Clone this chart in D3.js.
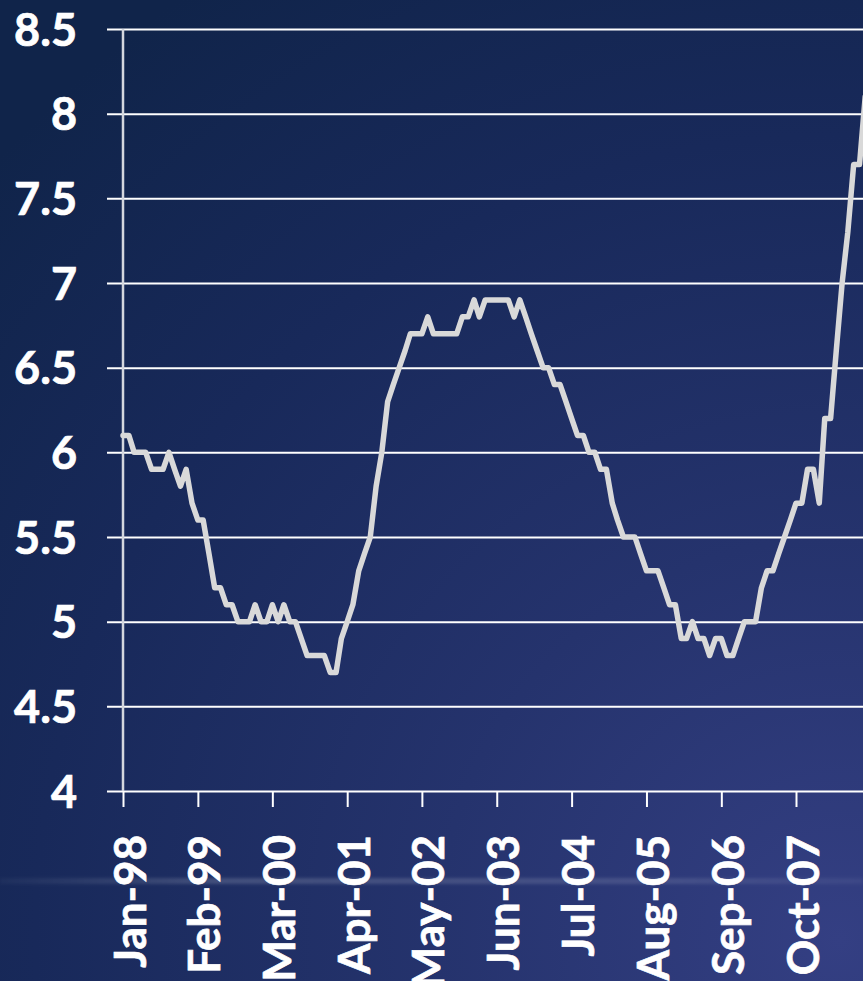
<!DOCTYPE html>
<html>
<head>
<meta charset="utf-8">
<script src="https://cdn.jsdelivr.net/npm/d3@7"></script>
<style>
  html, body { margin: 0; padding: 0; background: #14284f; }
  svg { display: block; }
  .lbl { font-family: Lato, "Open Sans", sans-serif; font-weight: 700; fill: #ffffff; stroke: #ffffff; stroke-width: 0.7px; }
</style>
</head>
<body>
<svg id="chart" width="863" height="981"></svg>
<script>
// Monthly series, first value is January 1998
const seriesStart = [1998, 0];
const rateValues = [
  6.1, 6.1, 6.0, 6.0, 6.0, 5.9, 5.9, 5.9, 6.0, 5.9, 5.8, 5.9,
  5.7, 5.6, 5.6, 5.4, 5.2, 5.2, 5.1, 5.1, 5.0, 5.0, 5.0, 5.1,
  5.0, 5.0, 5.1, 5.0, 5.1, 5.0, 5.0, 4.9, 4.8, 4.8, 4.8, 4.8,
  4.7, 4.7, 4.9, 5.0, 5.1, 5.3, 5.4, 5.5, 5.8, 6.0, 6.3, 6.4,
  6.5, 6.6, 6.7, 6.7, 6.7, 6.8, 6.7, 6.7, 6.7, 6.7, 6.7, 6.8,
  6.8, 6.9, 6.8, 6.9, 6.9, 6.9, 6.9, 6.9, 6.8, 6.9, 6.8, 6.7,
  6.6, 6.5, 6.5, 6.4, 6.4, 6.3, 6.2, 6.1, 6.1, 6.0, 6.0, 5.9,
  5.9, 5.7, 5.6, 5.5, 5.5, 5.5, 5.4, 5.3, 5.3, 5.3, 5.2, 5.1,
  5.1, 4.9, 4.9, 5.0, 4.9, 4.9, 4.8, 4.9, 4.9, 4.8, 4.8, 4.9,
  5.0, 5.0, 5.0, 5.2, 5.3, 5.3, 5.4, 5.5, 5.6, 5.7, 5.7, 5.9,
  5.9, 5.7, 6.2, 6.2, 6.6, 7.0, 7.3, 7.7, 7.7, 8.1
];

// Category axis labels (every 13th month)
const xTickLabels = ["Jan-98", "Feb-99", "Mar-00", "Apr-01", "May-02",
                     "Jun-03", "Jul-04", "Aug-05", "Sep-06", "Oct-07"];

// Value axis
const yTickValues = [4, 4.5, 5, 5.5, 6, 6.5, 7, 7.5, 8, 8.5];
const yTickLabels = ["4", "4.5", "5", "5.5", "6", "6.5", "7", "7.5", "8", "8.5"];

const W = 863, H = 981;
const svg = d3.select("#chart");
const defs = svg.append("defs");

// Background: dark navy, brightening towards the lower right
const bg = defs.append("radialGradient")
  .attr("id", "bgGrad")
  .attr("gradientUnits", "userSpaceOnUse")
  .attr("cx", 840).attr("cy", 940).attr("r", 1150);
bg.append("stop").attr("offset", 0).attr("stop-color", "#343f83");
bg.append("stop").attr("offset", 0.35).attr("stop-color", "#25336d");
bg.append("stop").attr("offset", 0.7).attr("stop-color", "#18295a");
bg.append("stop").attr("offset", 1).attr("stop-color", "#10244a");
svg.append("rect").attr("width", W).attr("height", H).attr("fill", "url(#bgGrad)");

// Faint glossy streak across the lower band
const streak = defs.append("linearGradient").attr("id", "streak");
streak.append("stop").attr("offset", 0).attr("stop-color", "#ffffff").attr("stop-opacity", 0.03);
streak.append("stop").attr("offset", 0.25).attr("stop-color", "#ffffff").attr("stop-opacity", 0.16);
streak.append("stop").attr("offset", 0.75).attr("stop-color", "#ffffff").attr("stop-opacity", 0.12);
streak.append("stop").attr("offset", 1).attr("stop-color", "#ffffff").attr("stop-opacity", 0.05);
defs.append("filter").attr("id", "soft").attr("x", "-5%").attr("y", "-200%").attr("width", "110%").attr("height", "500%")
  .append("feGaussianBlur").attr("stdDeviation", 1.6);
svg.append("rect").attr("x", 0).attr("y", 878).attr("width", W).attr("height", 6)
  .attr("fill", "url(#streak)").attr("filter", "url(#soft)");

// Data
const parseLabel = d3.timeParse("%b-%y");
const series = rateValues.map((v, i) => ({
  date: new Date(seriesStart[0], seriesStart[1] + i, 1),
  value: v
}));
const tickDates = xTickLabels.map(parseLabel);

// Scales
const x = d3.scaleTime()
  .domain([tickDates[0], tickDates[tickDates.length - 1]])
  .range([123, 796]);
const y = d3.scaleLinear().domain([4, 8.5]).range([791, 29]);

// Horizontal gridlines with value labels
const gridLeft = 107;
const yAxis = d3.axisLeft(y)
  .tickValues(yTickValues)
  .tickSize(-(W - gridLeft))
  .tickPadding(30)
  .tickFormat((d, i) => yTickLabels[i]);
const gy = svg.append("g").attr("transform", `translate(${gridLeft},0)`).call(yAxis);
gy.select(".domain").remove();
gy.selectAll(".tick line").attr("stroke", "#ffffff").attr("stroke-width", 2);
gy.selectAll(".tick text")
  .attr("class", "lbl")
  .attr("font-size", 45)
  .attr("dy", "0.36em");

// Vertical value axis line
svg.append("line")
  .attr("x1", x(tickDates[0])).attr("x2", x(tickDates[0]))
  .attr("y1", y(8.5)).attr("y2", y(4))
  .attr("stroke", "#d4d7de").attr("stroke-width", 2.5);

// Category axis ticks and rotated labels
const xAxis = d3.axisBottom(x)
  .tickValues(tickDates)
  .tickSize(16)
  .tickFormat((d, i) => xTickLabels[i]);
const gx = svg.append("g").attr("transform", `translate(0,${y(4)})`).call(xAxis);
gx.select(".domain").remove();
gx.selectAll(".tick line").attr("stroke", "#ffffff").attr("stroke-width", 2);
gx.selectAll(".tick text")
  .attr("class", "lbl")
  .attr("font-size", 44)
  .attr("x", 0).attr("y", 0).attr("dy", 0)
  .attr("text-anchor", "end")
  .attr("transform", "translate(22,44) rotate(-90)");

// Series line
const line = d3.line()
  .x(d => x(d.date))
  .y(d => y(d.value));
svg.append("path")
  .datum(series)
  .attr("d", line)
  .attr("fill", "none")
  .attr("stroke", "#d9d9d9")
  .attr("stroke-width", 5.5)
  .attr("stroke-linejoin", "round")
  .attr("stroke-linecap", "round");
</script>
</body>
</html>
